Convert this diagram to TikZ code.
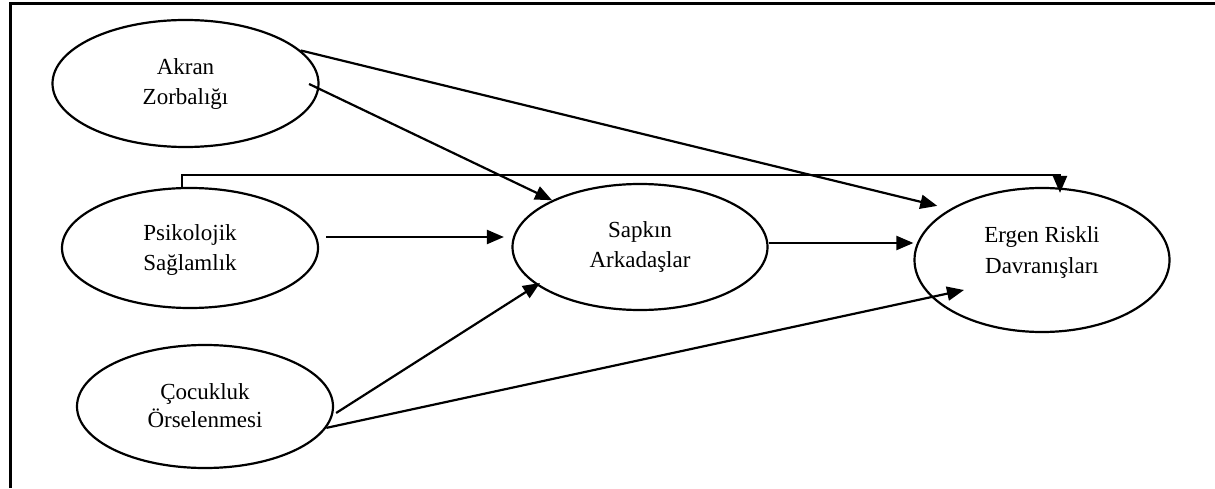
\documentclass[tikz,border=0pt]{standalone}
\usepackage{fontspec}
\setmainfont{Liberation Serif}
\usetikzlibrary{arrows.meta,shapes.geometric}
\begin{document}
\begin{tikzpicture}[x=1pt,y=1pt,
  ell/.style={ellipse,draw,line width=2.2pt,inner sep=0pt,align=center,
    font=\fontsize{23}{30}\selectfont,text height=45pt,text depth=2pt},
  arr/.style={line width=2.2pt,-{Triangle[length=17pt,width=14pt]}},
  frameline/.style={line width=3pt}]
\useasboundingbox (0,0) rectangle (1215,488);
\draw[frameline] (10.5,0) -- (10.5,484.2) -- (1215,484.2);
\node[ell,minimum width=266pt,minimum height=127pt] (akran) at (185.5,404.5) {Akran\\Zorbalığı};
\node[ell,minimum width=256pt,minimum height=120pt,text depth=1pt] (psiko) at (190,240) {Psikolojik\\Sağlamlık};
\node[ell,minimum width=256pt,minimum height=123pt,text depth=4pt,font=\fontsize{23}{28}\selectfont] (cocuk) at (205,81.5) {Çocukluk\\Örselenmesi};
\node[ell,minimum width=255pt,minimum height=126pt,text depth=5pt] (sapkin) at (640,241) {Sapkın\\Arkadaşlar};
\node[ell,minimum width=255pt,minimum height=144pt,text depth=19pt] (ergen) at (1042,228) {Ergen Riskli\\Davranışları};
\draw[arr,shorten >=13pt] (akran.16.6) -- (ergen.151.4);
\draw[arr] ([shift={(-10.5,-0.5)}]akran.east) -- (sapkin.152.9);
\draw[arr] ([xshift=-8]psiko.north) -- ++(0,12) -| ([shift={(18,-6)}]ergen.north);
\draw[arr] ([shift={(7,11)}]psiko.east) -- ([shift={(-7.5,10)}]sapkin.west);
\draw[arr] ([yshift=4]sapkin.east) -- ([yshift=17]ergen.west);
\draw[arr] ([shift={(2,-6.5)}]cocuk.east) -- ([shift={(-100,-36)}]sapkin.center);
\draw[arr] (cocuk.-10.3) -- ([shift={(-78,-30)}]ergen.center);
\end{tikzpicture}
\end{document}
